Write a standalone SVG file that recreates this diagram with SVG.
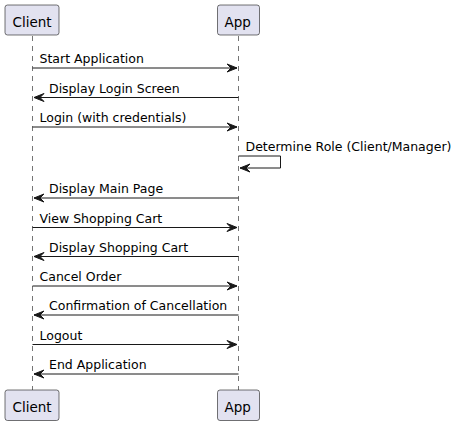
<svg xmlns="http://www.w3.org/2000/svg" width="456" height="426" viewBox="0 0 456 426">
<style>
.box{fill:#E2E2F0;stroke:#181818;stroke-width:0.6}
.pt{font-family:"DejaVu Sans",sans-serif;font-size:13.5px;fill:#000}
.life{stroke:#181818;stroke-width:0.6;stroke-dasharray:5,5}
.msg{stroke:#181818;stroke-width:1;fill:none}
.head{fill:#181818;stroke:#181818;stroke-width:1}
.mt{font-family:"DejaVu Sans",sans-serif;font-size:12.5px;fill:#000}
</style>
<rect width="456" height="426" fill="#fff"/>
<g id="lifelines">
<line class="life" x1="32.5" y1="36" x2="32.5" y2="390"/>
<line class="life" x1="238.5" y1="36" x2="238.5" y2="390"/>
</g>
<g id="client">
<rect class="box" x="5" y="5" width="54" height="30" rx="2.5"/>
<text class="pt" x="12.5" y="26.5">Client</text>
<rect class="box" x="5" y="390" width="54" height="30.5" rx="2.5"/>
<text class="pt" x="12.5" y="411.5">Client</text>
</g>
<g id="app">
<rect class="box" x="217.5" y="5" width="42" height="30" rx="2.5"/>
<text class="pt" x="224.5" y="26.5">App</text>
<rect class="box" x="217.5" y="390" width="42" height="30.5" rx="2.5"/>
<text class="pt" x="224.5" y="411.5">App</text>
</g>
<g id="connectors">
<line class="msg" x1="32.5" y1="68" x2="237" y2="68"/>
<polygon class="head" points="227,64 237,68 227,72 231,68"/>
<text class="mt" x="39.5" y="63">Start Application</text>

<line class="msg" x1="34" y1="97.5" x2="238.5" y2="97.5"/>
<polygon class="head" points="44,93.5 34,97.5 44,101.5 40,97.5"/>
<text class="mt" x="49" y="92.5">Display Login Screen</text>

<line class="msg" x1="32.5" y1="127" x2="237" y2="127"/>
<polygon class="head" points="227,123 237,127 227,131 231,127"/>
<text class="mt" x="39.5" y="122">Login (with credentials)</text>

<polyline class="msg" points="238.5,156 280.5,156 280.5,168 240,168"/>
<polygon class="head" points="250,164 240,168 250,172 246,168"/>
<text class="mt" x="245.5" y="151">Determine Role (Client/Manager)</text>

<line class="msg" x1="34" y1="198" x2="238.5" y2="198"/>
<polygon class="head" points="44,194 34,198 44,202 40,198"/>
<text class="mt" x="49" y="193">Display Main Page</text>

<line class="msg" x1="32.5" y1="227.5" x2="237" y2="227.5"/>
<polygon class="head" points="227,223.5 237,227.5 227,231.5 231,227.5"/>
<text class="mt" x="39.5" y="222.5">View Shopping Cart</text>

<line class="msg" x1="34" y1="256.5" x2="238.5" y2="256.5"/>
<polygon class="head" points="44,252.5 34,256.5 44,260.5 40,256.5"/>
<text class="mt" x="49" y="251.5">Display Shopping Cart</text>

<line class="msg" x1="32.5" y1="286" x2="237" y2="286"/>
<polygon class="head" points="227,282 237,286 227,290 231,286"/>
<text class="mt" x="39.5" y="281">Cancel Order</text>

<line class="msg" x1="34" y1="315" x2="238.5" y2="315"/>
<polygon class="head" points="44,311 34,315 44,319 40,315"/>
<text class="mt" x="49" y="310">Confirmation of Cancellation</text>

<line class="msg" x1="32.5" y1="344.5" x2="237" y2="344.5"/>
<polygon class="head" points="227,340.5 237,344.5 227,348.5 231,344.5"/>
<text class="mt" x="39.5" y="339.5">Logout</text>

<line class="msg" x1="34" y1="374" x2="238.5" y2="374"/>
<polygon class="head" points="44,370 34,374 44,378 40,374"/>
<text class="mt" x="49" y="369">End Application</text>
</g>
</svg>
